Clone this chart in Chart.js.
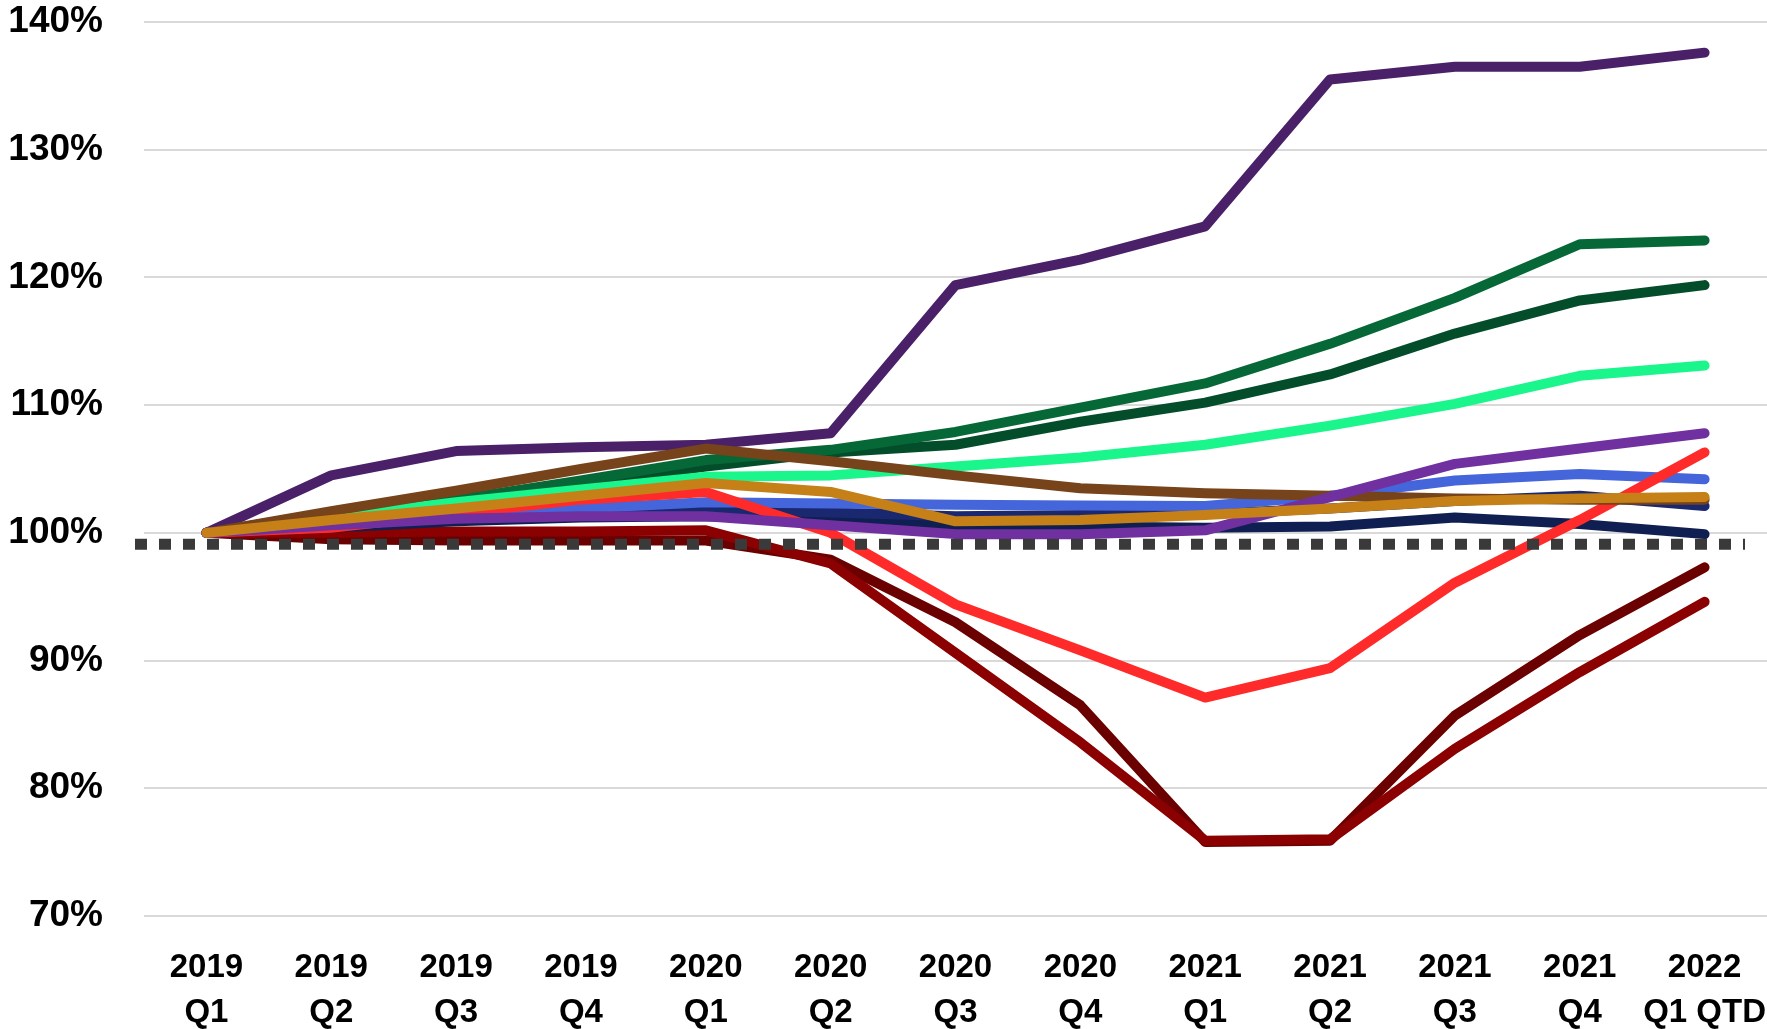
<!DOCTYPE html>
<html>
<head>
<meta charset="utf-8">
<script src="https://cdn.jsdelivr.net/npm/chart.js@4/dist/chart.umd.min.js"></script>
<style>
  body { margin: 0; background: #fff; }
</style>
</head>
<body>
<canvas id="growthChart" width="1767" height="1029"></canvas>
<script>
// quarters on the x axis
var quarters = [
    ['2019', 'Q1'], ['2019', 'Q2'], ['2019', 'Q3'], ['2019', 'Q4'],
    ['2020', 'Q1'], ['2020', 'Q2'], ['2020', 'Q3'], ['2020', 'Q4'],
    ['2021', 'Q1'], ['2021', 'Q2'], ['2021', 'Q3'], ['2021', 'Q4'],
    ['2022', 'Q1 QTD']
];

// y ticks
var yTicks = [70, 80, 90, 100, 110, 120, 130, 140];

// dotted reference level
var baselineValue = 99.1;

// series values (index, 2019 Q1 = 100)
var redSeries       = [100, 100.4, 101.5, 102.6, 103.2, 100.0, 94.4, 90.8, 87.1, 89.4, 96.1, 101.0, 106.3];
var orangeSeries    = [100, 101.0, 101.9, 102.9, 103.9, 103.2, 100.9, 101.0, 101.4, 101.9, 102.5, 102.7, 102.8];
var brownSeries     = [100, 101.7, 103.3, 105.0, 106.6, 105.6, 104.5, 103.5, 103.1, 102.9, 102.7, 102.6, 102.6];
var purpleSeries    = [100, 100.6, 101.1, 101.3, 101.3, 100.6, 99.9, 99.9, 100.2, 102.8, 105.4, 106.6, 107.8];
var blueSeries      = [100, 100.8, 101.4, 101.9, 102.4, 102.3, 102.2, 102.15, 102.1, 102.9, 104.1, 104.6, 104.2];
var navySeries      = [100, 100.7, 101.2, 101.6, 101.8, 101.6, 101.3, 101.4, 101.5, 101.9, 102.5, 102.9, 102.1];
var darkNavySeries  = [100, 100.4, 100.9, 101.2, 101.3, 101.0, 100.6, 100.5, 100.4, 100.5, 101.2, 100.7, 99.9];
var plumSeries      = [100, 104.5, 106.4, 106.7, 106.9, 107.8, 119.4, 121.4, 124.0, 135.5, 136.5, 136.5, 137.6];
var mintSeries      = [100, 101.2, 102.4, 103.4, 104.4, 104.5, 105.2, 105.9, 106.9, 108.4, 110.1, 112.3, 113.1];
var greenSeries     = [100, 101.6, 102.6, 104.1, 105.7, 106.5, 107.9, 109.8, 111.7, 114.8, 118.4, 122.6, 122.9];
var forestSeries    = [100, 101.4, 102.5, 103.8, 105.2, 106.3, 106.9, 108.7, 110.2, 112.4, 115.6, 118.2, 119.4];
var maroonSeries    = [100, 100.0, 100.1, 100.1, 100.2, 97.6, 90.6, 83.6, 75.9, 76.0, 83.1, 89.1, 94.6];
var darkMaroonSeries = [100, 99.5, 99.4, 99.4, 99.4, 97.9, 93.0, 86.5, 75.8, 75.9, 85.7, 92.0, 97.3];

function line(label, data, color) {
    return {
        label: label,
        data: data,
        borderColor: color,
        backgroundColor: color,
        borderWidth: 10,
        borderCapStyle: 'round',
        borderJoinStyle: 'round',
        pointRadius: 0,
        tension: 0,
        fill: false
    };
}

// dotted line across the plot at the baseline level
var baselinePlugin = {
    id: 'baseline',
    afterDatasetsDraw: function (chart) {
        var ctx = chart.ctx;
        var area = chart.chartArea;
        var y = chart.scales.y.getPixelForValue(baselineValue);
        ctx.save();
        ctx.strokeStyle = '#3a3a3a';
        ctx.lineWidth = 11;
        ctx.setLineDash([12, 12]);
        ctx.beginPath();
        ctx.moveTo(area.left - 9, y);
        ctx.lineTo(area.right - 22, y);
        ctx.stroke();
        ctx.restore();
    }
};

var labelFont = { family: "'Liberation Sans', Arial, sans-serif", weight: 'bold' };

// first dataset is drawn on top
const data = {
    labels: quarters,
    datasets: [
        line('Orange', orangeSeries, '#c68018'),
        line('Purple', purpleSeries, '#7030a0'),
        line('Brown', brownSeries, '#77431b'),
        line('Red', redSeries, '#ff2b2b'),
        line('Blue', blueSeries, '#4565db'),
        line('Navy', navySeries, '#1a2870'),
        line('Dark navy', darkNavySeries, '#0f1f52'),
        line('Plum', plumSeries, '#4a2068'),
        line('Mint', mintSeries, '#1af58c'),
        line('Green', greenSeries, '#066837'),
        line('Forest', forestSeries, '#044d2a'),
        line('Maroon', maroonSeries, '#8b0000'),
        line('Dark maroon', darkMaroonSeries, '#6a0000')
    ]
};

const config = {
    type: 'line',
    data: data,
    plugins: [baselinePlugin],
    options: {
        responsive: false,
        animation: false,
        layout: { padding: 0 },
        plugins: {
            legend: { display: false },
            tooltip: { enabled: false }
        },
        scales: {
            x: {
                offset: true,
                grid: { display: false, drawTicks: false },
                border: { display: false },
                ticks: {
                    color: '#000',
                    font: Object.assign({ size: 33, lineHeight: 1.35 }, labelFont),
                    padding: 30,
                    maxRotation: 0,
                    autoSkip: false
                },
                afterFit: function (scale) {
                    scale.height = 113;
                    scale.paddingLeft = 0;
                    scale.paddingRight = 0;
                }
            },
            y: {
                min: 70,
                max: 140,
                afterBuildTicks: function (scale) {
                    scale.ticks = yTicks.map(function (v) { return { value: v }; });
                },
                grid: { color: '#d9d9d9', lineWidth: 2, drawTicks: false },
                border: { display: false },
                ticks: {
                    color: '#000',
                    font: Object.assign({ size: 37 }, labelFont),
                    padding: 41,
                    callback: function (v) { return v + '%'; }
                },
                afterFit: function (scale) {
                    scale.width = 144;
                    scale.paddingTop = 22;
                    scale.paddingBottom = 0;
                }
            }
        }
    }
};

const growthChart = new Chart(document.getElementById('growthChart'), config);
</script>
</body>
</html>
